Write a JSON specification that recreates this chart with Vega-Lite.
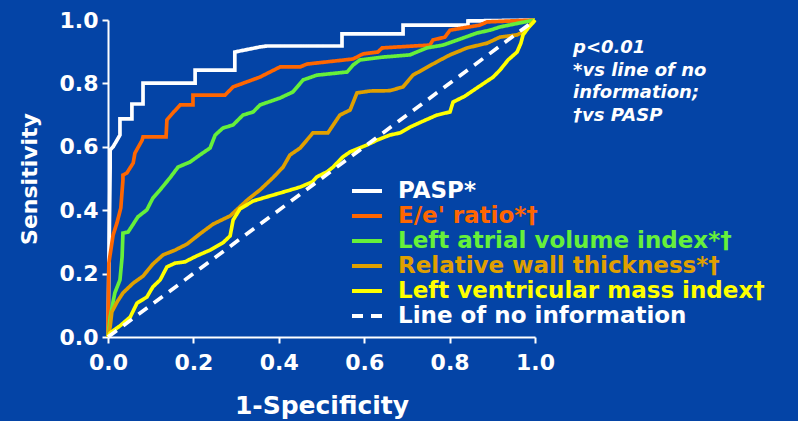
{
  "$schema": "https://vega.github.io/schema/vega-lite/v6.json",
  "width": 427,
  "height": 317,
  "autosize": "none",
  "padding": {"left": 108, "top": 20, "right": 263, "bottom": 84},
  "background": "#0444A6",
  "title": {
    "text": ["p<0.01", "*vs line of no", "information;", "†vs PASP"],
    "orient": "top", "anchor": "start", "frame": "group", "offset": 0,
    "dx": 465, "dy": 134, "baseline": "bottom", "align": "left",
    "color": "white", "font": "DejaVu Sans", "fontSize": 18, "fontWeight": "bold", "fontStyle": "italic", "lineHeight": 22.7
  },
  "data": {"values": [
    {"s": "PASP*", "x": 0, "y": 0},
    {"s": "PASP*", "x": 0.005, "y": 0.533},
    {"s": "PASP*", "x": 0.005, "y": 0.59},
    {"s": "PASP*", "x": 0.012, "y": 0.6},
    {"s": "PASP*", "x": 0.028, "y": 0.637},
    {"s": "PASP*", "x": 0.028, "y": 0.688},
    {"s": "PASP*", "x": 0.056, "y": 0.688},
    {"s": "PASP*", "x": 0.056, "y": 0.735},
    {"s": "PASP*", "x": 0.082, "y": 0.735},
    {"s": "PASP*", "x": 0.082, "y": 0.801},
    {"s": "PASP*", "x": 0.204, "y": 0.801},
    {"s": "PASP*", "x": 0.204, "y": 0.842},
    {"s": "PASP*", "x": 0.297, "y": 0.842},
    {"s": "PASP*", "x": 0.297, "y": 0.899},
    {"s": "PASP*", "x": 0.356, "y": 0.915},
    {"s": "PASP*", "x": 0.372, "y": 0.918},
    {"s": "PASP*", "x": 0.548, "y": 0.918},
    {"s": "PASP*", "x": 0.548, "y": 0.956},
    {"s": "PASP*", "x": 0.691, "y": 0.956},
    {"s": "PASP*", "x": 0.691, "y": 0.984},
    {"s": "PASP*", "x": 0.843, "y": 0.984},
    {"s": "PASP*", "x": 0.843, "y": 0.997},
    {"s": "PASP*", "x": 1, "y": 1},

    {"s": "E/e' ratio*†", "x": 0, "y": 0},
    {"s": "E/e' ratio*†", "x": 0, "y": 0.05},
    {"s": "E/e' ratio*†", "x": 0.002, "y": 0.233},
    {"s": "E/e' ratio*†", "x": 0.012, "y": 0.322},
    {"s": "E/e' ratio*†", "x": 0.021, "y": 0.36},
    {"s": "E/e' ratio*†", "x": 0.03, "y": 0.407},
    {"s": "E/e' ratio*†", "x": 0.035, "y": 0.495},
    {"s": "E/e' ratio*†", "x": 0.035, "y": 0.511},
    {"s": "E/e' ratio*†", "x": 0.044, "y": 0.517},
    {"s": "E/e' ratio*†", "x": 0.059, "y": 0.549},
    {"s": "E/e' ratio*†", "x": 0.063, "y": 0.58},
    {"s": "E/e' ratio*†", "x": 0.08, "y": 0.621},
    {"s": "E/e' ratio*†", "x": 0.082, "y": 0.631},
    {"s": "E/e' ratio*†", "x": 0.136, "y": 0.631},
    {"s": "E/e' ratio*†", "x": 0.138, "y": 0.685},
    {"s": "E/e' ratio*†", "x": 0.152, "y": 0.707},
    {"s": "E/e' ratio*†", "x": 0.169, "y": 0.732},
    {"s": "E/e' ratio*†", "x": 0.199, "y": 0.732},
    {"s": "E/e' ratio*†", "x": 0.199, "y": 0.763},
    {"s": "E/e' ratio*†", "x": 0.274, "y": 0.763},
    {"s": "E/e' ratio*†", "x": 0.293, "y": 0.789},
    {"s": "E/e' ratio*†", "x": 0.356, "y": 0.82},
    {"s": "E/e' ratio*†", "x": 0.403, "y": 0.852},
    {"s": "E/e' ratio*†", "x": 0.45, "y": 0.852},
    {"s": "E/e' ratio*†", "x": 0.466, "y": 0.861},
    {"s": "E/e' ratio*†", "x": 0.574, "y": 0.877},
    {"s": "E/e' ratio*†", "x": 0.597, "y": 0.893},
    {"s": "E/e' ratio*†", "x": 0.632, "y": 0.899},
    {"s": "E/e' ratio*†", "x": 0.642, "y": 0.912},
    {"s": "E/e' ratio*†", "x": 0.754, "y": 0.921},
    {"s": "E/e' ratio*†", "x": 0.761, "y": 0.937},
    {"s": "E/e' ratio*†", "x": 0.789, "y": 0.946},
    {"s": "E/e' ratio*†", "x": 0.801, "y": 0.968},
    {"s": "E/e' ratio*†", "x": 0.871, "y": 0.984},
    {"s": "E/e' ratio*†", "x": 0.888, "y": 0.994},
    {"s": "E/e' ratio*†", "x": 1, "y": 1},

    {"s": "Left atrial volume index*†", "x": 0, "y": 0},
    {"s": "Left atrial volume index*†", "x": 0.005, "y": 0.063},
    {"s": "Left atrial volume index*†", "x": 0.016, "y": 0.139},
    {"s": "Left atrial volume index*†", "x": 0.028, "y": 0.18},
    {"s": "Left atrial volume index*†", "x": 0.033, "y": 0.252},
    {"s": "Left atrial volume index*†", "x": 0.035, "y": 0.328},
    {"s": "Left atrial volume index*†", "x": 0.047, "y": 0.331},
    {"s": "Left atrial volume index*†", "x": 0.07, "y": 0.379},
    {"s": "Left atrial volume index*†", "x": 0.091, "y": 0.401},
    {"s": "Left atrial volume index*†", "x": 0.105, "y": 0.438},
    {"s": "Left atrial volume index*†", "x": 0.122, "y": 0.464},
    {"s": "Left atrial volume index*†", "x": 0.145, "y": 0.502},
    {"s": "Left atrial volume index*†", "x": 0.164, "y": 0.536},
    {"s": "Left atrial volume index*†", "x": 0.192, "y": 0.552},
    {"s": "Left atrial volume index*†", "x": 0.215, "y": 0.574},
    {"s": "Left atrial volume index*†", "x": 0.239, "y": 0.596},
    {"s": "Left atrial volume index*†", "x": 0.251, "y": 0.637},
    {"s": "Left atrial volume index*†", "x": 0.269, "y": 0.659},
    {"s": "Left atrial volume index*†", "x": 0.293, "y": 0.669},
    {"s": "Left atrial volume index*†", "x": 0.316, "y": 0.7},
    {"s": "Left atrial volume index*†", "x": 0.34, "y": 0.71},
    {"s": "Left atrial volume index*†", "x": 0.356, "y": 0.732},
    {"s": "Left atrial volume index*†", "x": 0.403, "y": 0.754},
    {"s": "Left atrial volume index*†", "x": 0.433, "y": 0.773},
    {"s": "Left atrial volume index*†", "x": 0.457, "y": 0.811},
    {"s": "Left atrial volume index*†", "x": 0.489, "y": 0.826},
    {"s": "Left atrial volume index*†", "x": 0.56, "y": 0.836},
    {"s": "Left atrial volume index*†", "x": 0.574, "y": 0.858},
    {"s": "Left atrial volume index*†", "x": 0.59, "y": 0.874},
    {"s": "Left atrial volume index*†", "x": 0.644, "y": 0.883},
    {"s": "Left atrial volume index*†", "x": 0.707, "y": 0.89},
    {"s": "Left atrial volume index*†", "x": 0.747, "y": 0.912},
    {"s": "Left atrial volume index*†", "x": 0.785, "y": 0.921},
    {"s": "Left atrial volume index*†", "x": 0.831, "y": 0.943},
    {"s": "Left atrial volume index*†", "x": 0.864, "y": 0.959},
    {"s": "Left atrial volume index*†", "x": 0.895, "y": 0.968},
    {"s": "Left atrial volume index*†", "x": 0.918, "y": 0.978},
    {"s": "Left atrial volume index*†", "x": 0.965, "y": 0.991},
    {"s": "Left atrial volume index*†", "x": 1, "y": 1},

    {"s": "Relative wall thickness*†", "x": 0, "y": 0},
    {"s": "Relative wall thickness*†", "x": 0.005, "y": 0.032},
    {"s": "Relative wall thickness*†", "x": 0.009, "y": 0.079},
    {"s": "Relative wall thickness*†", "x": 0.021, "y": 0.11},
    {"s": "Relative wall thickness*†", "x": 0.035, "y": 0.139},
    {"s": "Relative wall thickness*†", "x": 0.059, "y": 0.17},
    {"s": "Relative wall thickness*†", "x": 0.082, "y": 0.192},
    {"s": "Relative wall thickness*†", "x": 0.105, "y": 0.23},
    {"s": "Relative wall thickness*†", "x": 0.129, "y": 0.259},
    {"s": "Relative wall thickness*†", "x": 0.157, "y": 0.274},
    {"s": "Relative wall thickness*†", "x": 0.185, "y": 0.293},
    {"s": "Relative wall thickness*†", "x": 0.215, "y": 0.325},
    {"s": "Relative wall thickness*†", "x": 0.246, "y": 0.356},
    {"s": "Relative wall thickness*†", "x": 0.286, "y": 0.382},
    {"s": "Relative wall thickness*†", "x": 0.326, "y": 0.432},
    {"s": "Relative wall thickness*†", "x": 0.356, "y": 0.464},
    {"s": "Relative wall thickness*†", "x": 0.386, "y": 0.502},
    {"s": "Relative wall thickness*†", "x": 0.41, "y": 0.536},
    {"s": "Relative wall thickness*†", "x": 0.426, "y": 0.574},
    {"s": "Relative wall thickness*†", "x": 0.45, "y": 0.596},
    {"s": "Relative wall thickness*†", "x": 0.48, "y": 0.644},
    {"s": "Relative wall thickness*†", "x": 0.515, "y": 0.644},
    {"s": "Relative wall thickness*†", "x": 0.543, "y": 0.7},
    {"s": "Relative wall thickness*†", "x": 0.567, "y": 0.716},
    {"s": "Relative wall thickness*†", "x": 0.583, "y": 0.77},
    {"s": "Relative wall thickness*†", "x": 0.614, "y": 0.776},
    {"s": "Relative wall thickness*†", "x": 0.66, "y": 0.777},
    {"s": "Relative wall thickness*†", "x": 0.691, "y": 0.789},
    {"s": "Relative wall thickness*†", "x": 0.714, "y": 0.826},
    {"s": "Relative wall thickness*†", "x": 0.77, "y": 0.868},
    {"s": "Relative wall thickness*†", "x": 0.801, "y": 0.89},
    {"s": "Relative wall thickness*†", "x": 0.841, "y": 0.912},
    {"s": "Relative wall thickness*†", "x": 0.888, "y": 0.927},
    {"s": "Relative wall thickness*†", "x": 0.918, "y": 0.946},
    {"s": "Relative wall thickness*†", "x": 0.958, "y": 0.953},
    {"s": "Relative wall thickness*†", "x": 0.972, "y": 0.962},
    {"s": "Relative wall thickness*†", "x": 0.988, "y": 0.984},
    {"s": "Relative wall thickness*†", "x": 1, "y": 1},

    {"s": "Left ventricular mass index†", "x": 0, "y": 0},
    {"s": "Left ventricular mass index†", "x": 0.005, "y": 0.013},
    {"s": "Left ventricular mass index†", "x": 0.028, "y": 0.035},
    {"s": "Left ventricular mass index†", "x": 0.052, "y": 0.063},
    {"s": "Left ventricular mass index†", "x": 0.068, "y": 0.107},
    {"s": "Left ventricular mass index†", "x": 0.091, "y": 0.126},
    {"s": "Left ventricular mass index†", "x": 0.105, "y": 0.158},
    {"s": "Left ventricular mass index†", "x": 0.122, "y": 0.18},
    {"s": "Left ventricular mass index†", "x": 0.138, "y": 0.221},
    {"s": "Left ventricular mass index†", "x": 0.157, "y": 0.233},
    {"s": "Left ventricular mass index†", "x": 0.18, "y": 0.237},
    {"s": "Left ventricular mass index†", "x": 0.208, "y": 0.256},
    {"s": "Left ventricular mass index†", "x": 0.239, "y": 0.274},
    {"s": "Left ventricular mass index†", "x": 0.269, "y": 0.297},
    {"s": "Left ventricular mass index†", "x": 0.286, "y": 0.319},
    {"s": "Left ventricular mass index†", "x": 0.293, "y": 0.369},
    {"s": "Left ventricular mass index†", "x": 0.309, "y": 0.404},
    {"s": "Left ventricular mass index†", "x": 0.34, "y": 0.429},
    {"s": "Left ventricular mass index†", "x": 0.372, "y": 0.442},
    {"s": "Left ventricular mass index†", "x": 0.41, "y": 0.457},
    {"s": "Left ventricular mass index†", "x": 0.45, "y": 0.473},
    {"s": "Left ventricular mass index†", "x": 0.478, "y": 0.489},
    {"s": "Left ventricular mass index†", "x": 0.489, "y": 0.505},
    {"s": "Left ventricular mass index†", "x": 0.513, "y": 0.521},
    {"s": "Left ventricular mass index†", "x": 0.527, "y": 0.536},
    {"s": "Left ventricular mass index†", "x": 0.55, "y": 0.568},
    {"s": "Left ventricular mass index†", "x": 0.567, "y": 0.584},
    {"s": "Left ventricular mass index†", "x": 0.607, "y": 0.606},
    {"s": "Left ventricular mass index†", "x": 0.63, "y": 0.621},
    {"s": "Left ventricular mass index†", "x": 0.66, "y": 0.637},
    {"s": "Left ventricular mass index†", "x": 0.684, "y": 0.644},
    {"s": "Left ventricular mass index†", "x": 0.707, "y": 0.662},
    {"s": "Left ventricular mass index†", "x": 0.738, "y": 0.681},
    {"s": "Left ventricular mass index†", "x": 0.77, "y": 0.7},
    {"s": "Left ventricular mass index†", "x": 0.801, "y": 0.71},
    {"s": "Left ventricular mass index†", "x": 0.808, "y": 0.741},
    {"s": "Left ventricular mass index†", "x": 0.836, "y": 0.76},
    {"s": "Left ventricular mass index†", "x": 0.871, "y": 0.792},
    {"s": "Left ventricular mass index†", "x": 0.902, "y": 0.82},
    {"s": "Left ventricular mass index†", "x": 0.918, "y": 0.842},
    {"s": "Left ventricular mass index†", "x": 0.937, "y": 0.874},
    {"s": "Left ventricular mass index†", "x": 0.958, "y": 0.899},
    {"s": "Left ventricular mass index†", "x": 0.967, "y": 0.927},
    {"s": "Left ventricular mass index†", "x": 0.972, "y": 0.953},
    {"s": "Left ventricular mass index†", "x": 0.984, "y": 0.975},
    {"s": "Left ventricular mass index†", "x": 0.995, "y": 0.991},
    {"s": "Left ventricular mass index†", "x": 1, "y": 1},

    {"s": "Line of no information", "x": 0, "y": 0},
    {"s": "Line of no information", "x": 1, "y": 1}
  ]},
  "mark": {"type": "line", "strokeWidth": 3.7, "clip": false},
  "encoding": {
    "x": {
      "field": "x", "type": "quantitative",
      "scale": {"domain": [0, 1], "nice": false, "zero": false},
      "axis": {"title": "1-Specificity", "values": [0, 0.2, 0.4, 0.6, 0.8, 1], "format": ".1f",
               "labelPadding": 9, "titlePadding": 20, "titleFontSize": 25}
    },
    "y": {
      "field": "y", "type": "quantitative",
      "scale": {"domain": [0, 1], "nice": false, "zero": false},
      "axis": {"title": "Sensitivity", "values": [0, 0.2, 0.4, 0.6, 0.8, 1], "format": ".1f",
               "labelPadding": 4, "titlePadding": 18, "titleFontSize": 22}
    },
    "order": [{"field": "x", "type": "quantitative"}, {"field": "y", "type": "quantitative"}],
    "color": {
      "field": "s", "type": "nominal",
      "scale": {
        "domain": ["PASP*", "E/e' ratio*†", "Left atrial volume index*†", "Relative wall thickness*†", "Left ventricular mass index†", "Line of no information"],
        "range": ["#FFFFFF", "#FF6600", "#66F03A", "#E0A000", "#FFFF00", "#FFFFFF"]
      },
      "legend": {
        "title": null, "orient": "none", "legendX": 247, "legendY": 159,
        "symbolType": "M-1.5,0L1.5,0", "symbolSize": 400, "symbolStrokeWidth": 4,
        "labelFont": "DejaVu Sans", "labelFontWeight": "bold", "labelFontSize": 23,
        "labelOffset": 19, "rowPadding": 1, "padding": 0, "labelLimit": 600,
        "encode": {"labels": {"update": {"fill": {"scale": "color", "field": "value"}}}}
      }
    },
    "strokeDash": {
      "field": "s", "type": "nominal",
      "scale": {
        "domain": ["PASP*", "E/e' ratio*†", "Left atrial volume index*†", "Relative wall thickness*†", "Left ventricular mass index†", "Line of no information"],
        "range": [[1, 0], [1, 0], [1, 0], [1, 0], [1, 0], [11, 8]]
      },
      "legend": {
        "title": null, "orient": "none", "legendX": 247, "legendY": 159,
        "symbolType": "M-1.5,0L1.5,0", "symbolSize": 400, "symbolStrokeWidth": 4,
        "labelFont": "DejaVu Sans", "labelFontWeight": "bold", "labelFontSize": 23,
        "labelOffset": 19, "rowPadding": 1, "padding": 0, "labelLimit": 600
      }
    }
  },
  "config": {
    "view": {"stroke": null},
    "axis": {
      "domainColor": "white", "domainWidth": 2, "tickColor": "white", "tickWidth": 2, "tickSize": 6,
      "labelColor": "white", "labelFont": "DejaVu Sans", "labelFontWeight": "bold", "labelFontSize": 22,
      "labelFlush": false, "labelOverlap": false, "grid": false,
      "titleColor": "white", "titleFont": "DejaVu Sans", "titleFontWeight": "bold"
    }
  }
}
